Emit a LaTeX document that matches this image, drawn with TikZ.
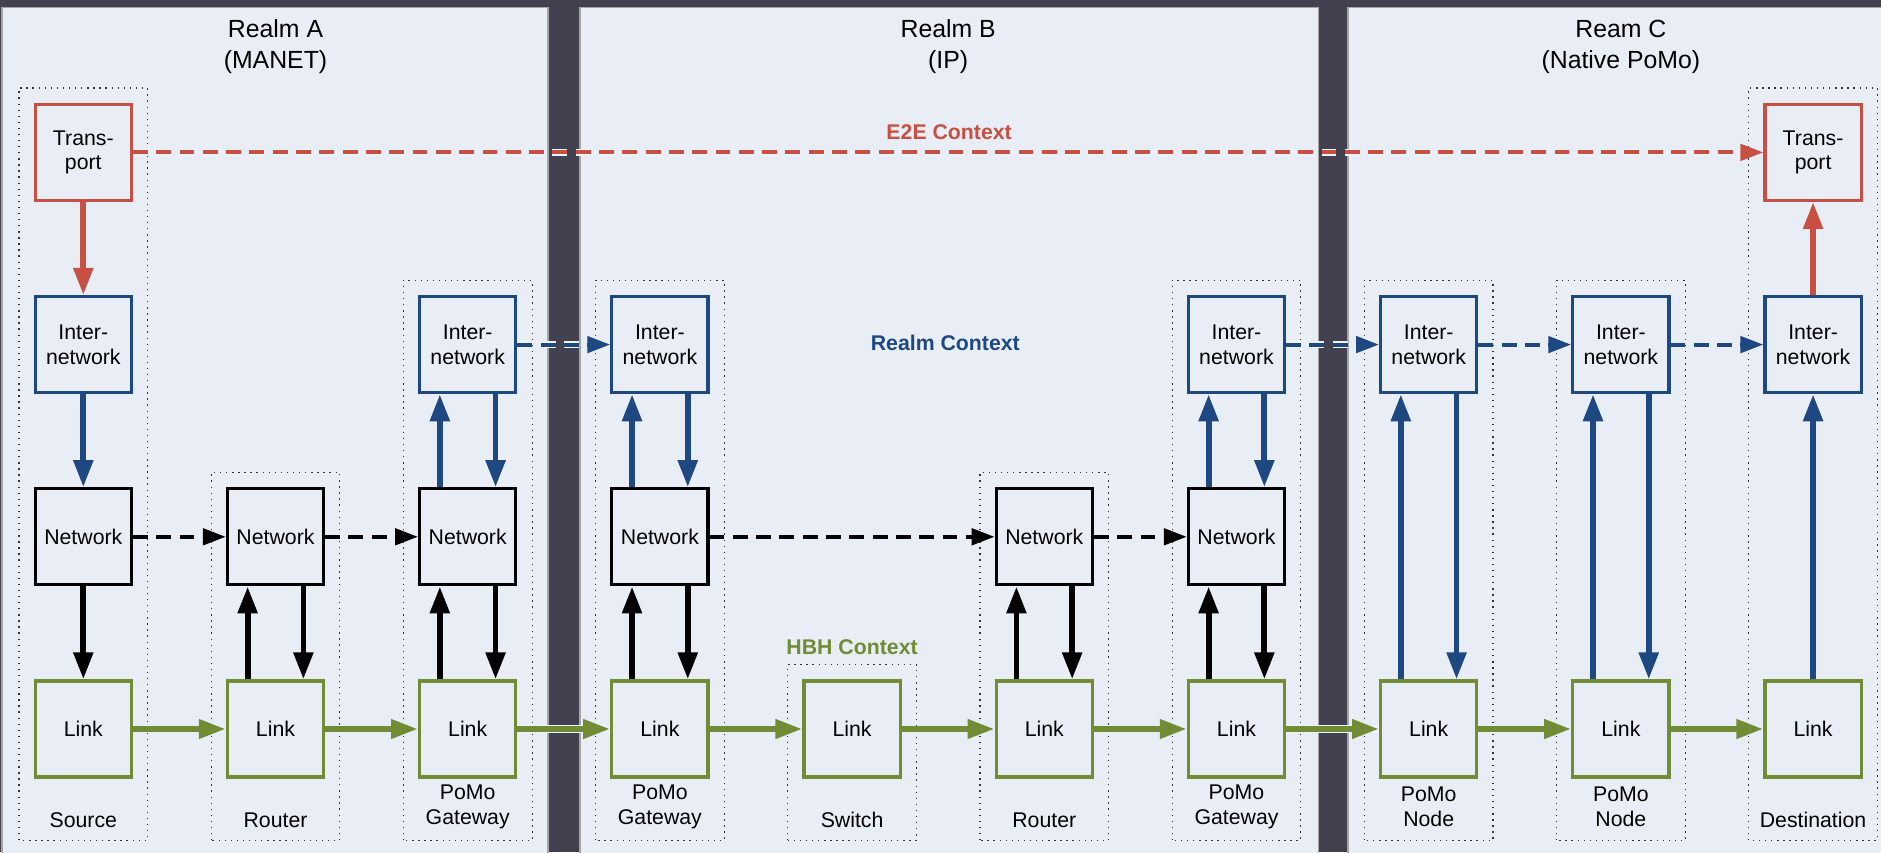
\documentclass[tikz,border=0pt]{standalone}
\usepackage{fontspec}
\setmainfont{Liberation Sans}
\usetikzlibrary{arrows.meta}

\definecolor{bgdark}{RGB}{65,65,80}
\definecolor{realmbg}{RGB}{233,238,246}
\definecolor{e2ered}{RGB}{200,80,66}
\definecolor{realmblue}{RGB}{30,72,130}
\definecolor{hbhgreen}{RGB}{112,140,52}

\begin{document}
\begin{tikzpicture}[x=1cm,y=1cm,
	layerbox/.style={draw,line width=0.95pt,minimum width=1cm,minimum height=1cm,inner sep=0pt,align=center,font=\fontsize{6.3}{7.3}\selectfont},
	trans/.style={layerbox,draw=e2ered},
	inet/.style={layerbox,draw=realmblue},
	netw/.style={layerbox,draw=black},
	link/.style={layerbox,draw=hbhgreen},
	devbox/.style={draw=black!80,line width=0.35pt,dash pattern=on 0.4pt off 1.4pt},
	devlabel/.style={align=center,font=\fontsize{6.3}{7.6}\selectfont},
	realmtitle/.style={align=center,font=\fontsize{7.35}{9.2}\selectfont},
	ctxlabel/.style={font=\bfseries\fontsize{6.3}{7.3}\selectfont},
	vert/.style={line width=1.7pt,-{Triangle[length=8pt,width=5.6pt]}},
	horiz/.style={line width=1.8pt,hbhgreen,-{Triangle[length=8pt,width=5.4pt]}},
	ctx/.style={line width=1.2pt,dash pattern=on 4.4pt off 2.5pt,-{Triangle[length=6.8pt,width=4.8pt]}},
	halo/.style={line width=2.4pt,realmbg!70!white}]
	\useasboundingbox (-0.867,-1.28) rectangle (18.707,7.586);
	
	%realms
	\fill[bgdark] (-0.867,-1.28) rectangle (18.707,7.586);
	\filldraw[fill=realmbg,draw=gray!70,line width=0.4pt] (-0.846,-1.4) rectangle (4.836,7.508);
	\filldraw[fill=realmbg,draw=gray!70,line width=0.4pt] (5.17,-1.4) rectangle (12.85,7.508);
	\filldraw[fill=realmbg,draw=gray!70,line width=0.4pt] (13.16,-1.4) rectangle (18.8,7.508);
	\node[realmtitle] (ra) at (2,7.10) {Realm A\\(MANET)};
	\node[realmtitle] (rb) at (9,7.10) {Realm B\\(IP)};
	\node[realmtitle] (rc) at (16,7.10) {Ream C\\(Native PoMo)};
	
	%devices
	\draw[devbox] (-0.67,-1.16) rectangle (0.67,6.67);
	\draw[devbox] (1.33,-1.16) rectangle (2.67,2.67);
	\draw[devbox] (3.33,-1.16) rectangle (4.67,4.67);
	\draw[devbox] (5.33,-1.16) rectangle (6.67,4.67);
	\draw[devbox] (7.33,-1.16) rectangle (8.67,0.67);
	\draw[devbox] (9.33,-1.16) rectangle (10.67,2.67);
	\draw[devbox] (11.33,-1.16) rectangle (12.67,4.67);
	\draw[devbox] (13.33,-1.16) rectangle (14.67,4.67);
	\draw[devbox] (15.33,-1.16) rectangle (16.67,4.67);
	\draw[devbox] (17.33,-1.16) rectangle (18.67,6.67);
	\node[devlabel] (lb1) at (0,-0.95) {Source};
	\node[devlabel] (lb2) at (2,-0.95) {Router};
	\node[devlabel] (lb3) at (4,-0.81) {PoMo\\Gateway};
	\node[devlabel] (lb4) at (6,-0.81) {PoMo\\Gateway};
	\node[devlabel] (lb5) at (8,-0.95) {Switch};
	\node[devlabel] (lb6) at (10,-0.95) {Router};
	\node[devlabel] (lb7) at (12,-0.81) {PoMo\\Gateway};
	\node[devlabel] (lb8) at (14,-0.81) {PoMo\\Node};
	\node[devlabel] (lb9) at (16,-0.81) {PoMo\\Node};
	\node[devlabel] (lb10) at (18,-0.95) {Destination};
	
	%layers
	\node[trans] (tr1) at (0,6) {Trans-\\port};
	\node[inet] (in1) at (0,4) {Inter-\\network};
	\node[netw] (nw1) at (0,2) {Network};
	\node[link] (lk1) at (0,0) {Link};
	%
	\node[netw] (nw2) at (2,2) {Network};
	\node[link] (lk2) at (2,0) {Link};
	%
	\node[inet] (in3) at (4,4) {Inter-\\network};
	\node[netw] (nw3) at (4,2) {Network};
	\node[link] (lk3) at (4,0) {Link};
	%
	\node[inet] (in4) at (6,4) {Inter-\\network};
	\node[netw] (nw4) at (6,2) {Network};
	\node[link] (lk4) at (6,0) {Link};
	%
	\node[link] (lk5) at (8,0) {Link};
	%
	\node[netw] (nw6) at (10,2) {Network};
	\node[link] (lk6) at (10,0) {Link};
	%
	\node[inet] (in7) at (12,4) {Inter-\\network};
	\node[netw] (nw7) at (12,2) {Network};
	\node[link] (lk7) at (12,0) {Link};
	%
	\node[inet] (in8) at (14,4) {Inter-\\network};
	\node[link] (lk8) at (14,0) {Link};
	%
	\node[inet] (in9) at (16,4) {Inter-\\network};
	\node[link] (lk9) at (16,0) {Link};
	%
	\node[trans] (tr10) at (18,6) {Trans-\\port};
	\node[inet] (in10) at (18,4) {Inter-\\network};
	\node[link] (lk10) at (18,0) {Link};
	
	%up and down the stacks
	\draw[vert,e2ered] (tr1) -- (in1);
	\draw[vert,realmblue] (in1) -- (nw1);
	\draw[vert,black] (nw1) -- (lk1);
	%
	\draw[vert,black] ([xshift=-0.29cm]lk2.north) -- ([xshift=-0.29cm]nw2.south);
	\draw[vert,black] ([xshift=0.29cm]nw2.south) -- ([xshift=0.29cm]lk2.north);
	%
	\draw[vert,black] ([xshift=-0.29cm]lk3.north) -- ([xshift=-0.29cm]nw3.south);
	\draw[vert,black] ([xshift=0.29cm]nw3.south) -- ([xshift=0.29cm]lk3.north);
	\draw[vert,realmblue] ([xshift=-0.29cm]nw3.north) -- ([xshift=-0.29cm]in3.south);
	\draw[vert,realmblue] ([xshift=0.29cm]in3.south) -- ([xshift=0.29cm]nw3.north);
	%
	\draw[vert,black] ([xshift=-0.29cm]lk4.north) -- ([xshift=-0.29cm]nw4.south);
	\draw[vert,black] ([xshift=0.29cm]nw4.south) -- ([xshift=0.29cm]lk4.north);
	\draw[vert,realmblue] ([xshift=-0.29cm]nw4.north) -- ([xshift=-0.29cm]in4.south);
	\draw[vert,realmblue] ([xshift=0.29cm]in4.south) -- ([xshift=0.29cm]nw4.north);
	%
	\draw[vert,black] ([xshift=-0.29cm]lk6.north) -- ([xshift=-0.29cm]nw6.south);
	\draw[vert,black] ([xshift=0.29cm]nw6.south) -- ([xshift=0.29cm]lk6.north);
	%
	\draw[vert,black] ([xshift=-0.29cm]lk7.north) -- ([xshift=-0.29cm]nw7.south);
	\draw[vert,black] ([xshift=0.29cm]nw7.south) -- ([xshift=0.29cm]lk7.north);
	\draw[vert,realmblue] ([xshift=-0.29cm]nw7.north) -- ([xshift=-0.29cm]in7.south);
	\draw[vert,realmblue] ([xshift=0.29cm]in7.south) -- ([xshift=0.29cm]nw7.north);
	%
	\draw[vert,realmblue] ([xshift=-0.29cm]lk8.north) -- ([xshift=-0.29cm]in8.south);
	\draw[vert,realmblue] ([xshift=0.29cm]in8.south) -- ([xshift=0.29cm]lk8.north);
	%
	\draw[vert,realmblue] ([xshift=-0.29cm]lk9.north) -- ([xshift=-0.29cm]in9.south);
	\draw[vert,realmblue] ([xshift=0.29cm]in9.south) -- ([xshift=0.29cm]lk9.north);
	%
	\draw[vert,realmblue] (lk10) -- (in10);
	\draw[vert,e2ered] (in10) -- (tr10);
	
	%light edge where a line crosses a gap between realms
	\draw[halo] (lk3) -- (lk4);
	\draw[halo] (lk7) -- (lk8);
	\draw[halo,line width=2pt,dash pattern=on 4.4pt off 2.5pt] (in3) -- (in4);
	\draw[halo,line width=2pt,dash pattern=on 4.4pt off 2.5pt] (in7) -- (in8);
	\draw[halo,line width=2pt,dash pattern=on 4.4pt off 2.5pt] (tr1) -- (tr10);
	
	%hop by hop
	\draw[horiz] (lk1) -- (lk2);
	\draw[horiz] (lk2) -- (lk3);
	\draw[horiz] (lk3) -- (lk4);
	\draw[horiz] (lk4) -- (lk5);
	\draw[horiz] (lk5) -- (lk6);
	\draw[horiz] (lk6) -- (lk7);
	\draw[horiz] (lk7) -- (lk8);
	\draw[horiz] (lk8) -- (lk9);
	\draw[horiz] (lk9) -- (lk10);
	%
	\draw[ctx,black] (nw1) -- (nw2);
	\draw[ctx,black] (nw2) -- (nw3);
	\draw[ctx,black] (nw4) -- (nw6);
	\draw[ctx,black] (nw6) -- (nw7);
	%
	\draw[ctx,realmblue] (in3) -- (in4);
	\draw[ctx,realmblue] (in7) -- (in8);
	\draw[ctx,realmblue] (in8) -- (in9);
	\draw[ctx,realmblue] (in9) -- (in10);
	%
	\draw[ctx,e2ered] (tr1) -- (tr10);
	
	%contexts
	\node[ctxlabel,text=e2ered] (e2e) at (9.01,6.21) {E2E Context};
	\node[ctxlabel,text=realmblue] (rctx) at (8.97,4.02) {Realm Context};
	\node[ctxlabel,text=hbhgreen] (hbh) at (8,0.85) {HBH Context};
\end{tikzpicture}
\end{document}
